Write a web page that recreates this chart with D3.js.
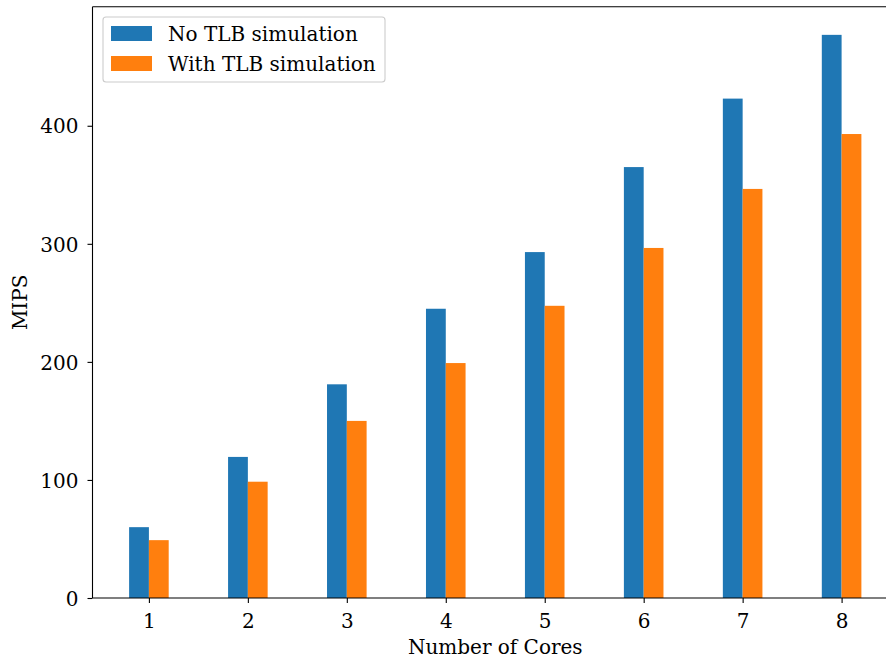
<!DOCTYPE html>
<html><head><meta charset="utf-8">
<script src="https://cdn.jsdelivr.net/npm/d3@7"></script>
<style>body{margin:0;background:#fff}svg{display:block}text{font-family:"DejaVu Serif",serif;fill:#000}</style>
</head><body>
<svg id="c" width="886" height="659"></svg>
<script>
const cores = [1, 2, 3, 4, 5, 6, 7, 8];
const noTLB = [60, 119.5, 181, 245, 293, 365, 423, 477];
const withTLB = [49, 98.5, 150, 199, 247.5, 296.5, 346.5, 393];
const seriesNames = ["No TLB simulation", "With TLB simulation"];
const colors = ["#1f77b4", "#ff7f0e"];
const yTicks = [0, 100, 200, 300, 400];

(function () {
const svg = d3.select("#c");
const pL = 92.5, pR = 898, pT = 6.7, pB = 598;
const barW = 0.2;
const x = d3.scaleLinear().domain([1 - barW - 0.37, 8 + barW + 0.37]).range([pL, pR]);
const ymax = d3.max(noTLB) * 1.05;
const y = d3.scaleLinear().domain([0, ymax]).range([pB, pT]);

const series = [noTLB, withTLB];
series.forEach((vals, si) => {
  svg.append("g").selectAll("rect").data(cores).join("rect")
    .attr("x", (c) => si === 0 ? x(c - barW) : x(c))
    .attr("width", (c) => x(c + barW) - x(c))
    .attr("y", (c, i) => y(vals[i]))
    .attr("height", (c, i) => y(0) - y(vals[i]))
    .attr("fill", colors[si]);
});

const fs = 20;
const xAxis = svg.append("g").attr("transform", `translate(0,${pB})`)
  .call(d3.axisBottom(x).tickValues(cores).tickSize(5).tickPadding(5).tickFormat(d3.format("d")));
const yAxis = svg.append("g").attr("transform", `translate(${pL},0)`)
  .call(d3.axisLeft(y).tickValues(yTicks).tickSize(5).tickPadding(9).tickFormat(d3.format("d")));
[xAxis, yAxis].forEach(g => {
  g.selectAll("text").style("font-family", "DejaVu Serif").style("font-size", fs + "px").attr("fill", "#000");
  g.selectAll("line").attr("stroke", "#000").attr("stroke-width", 1.1);
  g.select(".domain").remove();
});
xAxis.selectAll("text").attr("y", 30).attr("dy", 0);
yAxis.selectAll("text").attr("dy", "0.36em");

svg.append("line").attr("x1", pL).attr("x2", pL).attr("y1", pT).attr("y2", pB).attr("stroke", "#000").attr("stroke-width", 1.1);
svg.append("line").attr("x1", pL).attr("x2", 886).attr("y1", pB).attr("y2", pB).attr("stroke", "#000").attr("stroke-width", 1.1);
svg.append("line").attr("x1", pL).attr("x2", 886).attr("y1", pT).attr("y2", pT).attr("stroke", "#000").attr("stroke-width", 1.1);

svg.append("text").attr("x", (pL + pR) / 2).attr("y", 654).attr("text-anchor", "middle")
  .style("font-size", fs + "px").text("Number of Cores");
svg.append("text").attr("transform", `translate(27,${(pT + pB) / 2}) rotate(-90)`).attr("text-anchor", "middle")
  .style("font-size", fs + "px").text("MIPS");

const lg = svg.append("g");
lg.append("rect").attr("x", 103).attr("y", 17).attr("width", 282).attr("height", 65).attr("rx", 3)
  .attr("fill", "#fff").attr("fill-opacity", 0.8).attr("stroke", "#cccccc").attr("stroke-width", 1.1);
seriesNames.forEach((n, i) => {
  lg.append("rect").attr("x", 111).attr("y", 26 + i * 30).attr("width", 41).attr("height", 15).attr("fill", colors[i]);
  lg.append("text").attr("x", 168).attr("y", 41 + i * 30).style("font-size", fs + "px").text(n);
});
})();
</script>
</body></html>
